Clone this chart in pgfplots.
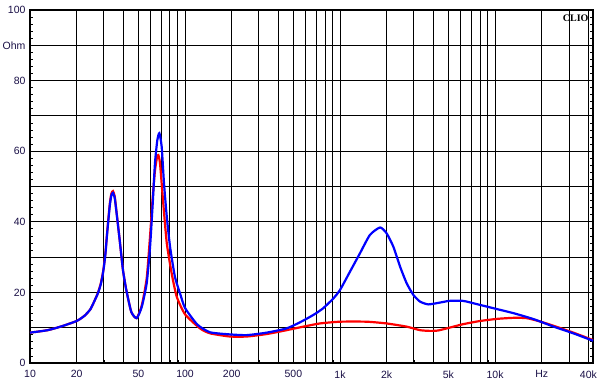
\documentclass[border=0pt]{standalone}
\usepackage{pgfplots}
\pgfplotsset{compat=1.18}
\usepackage{fontspec}
\setmainfont{Liberation Sans}
\newfontfamily\cliofont{Liberation Serif}
\definecolor{lab}{RGB}{25,15,70}
\begin{document}
\begin{tikzpicture}[x=1pt,y=1pt]
\useasboundingbox (-30,-25) rectangle (571,363);
\begin{axis}[
  at={(0,0)}, anchor=south west,
  scale only axis, width=563pt, height=353pt,
  xmode=log, xmin=10, xmax=42850, ymin=0, ymax=100,
  axis line style={line width=2pt},
  xtick={10,20,50,100,200,500,1000,2000,5000,10000,20000,40000},
  xticklabels={10,20,50,100,200,500,1k,2k,5k,10k,Hz,40k},
  minor xtick={30,40,60,70,80,90,300,400,600,700,800,900,3000,4000,6000,7000,8000,9000,30000},
  ytick={0,10,...,100},
  yticklabels={0,,20,,40,,60,,80,Ohm,100},
  minor ytick={2,4,...,98},
  grid=both,
  major grid style={black, line width=1pt},
  minor x grid style={black, line width=1pt},
  minor y grid style={draw=none},
  major tick length=0pt,
  minor tick length=3pt,
  minor tick style={black, line width=0.8pt},
  xtick pos=bottom,
  ytick align=inside,
  tick label style={font=\fontsize{10.5}{12}\selectfont, text=lab},
  xticklabel style={yshift=-4pt},
  yticklabel style={xshift=-1pt},
  clip=false,
]
\addplot[red, line width=2.2pt, smooth, tension=0.35] coordinates {
(10,8.6) (13,9.3) (16,10.4) (20,11.9) (22.5,13.4) (24.5,15.2) (26,17.5) (27.5,20) (28.7,22.8) (29.7,26.2) (30.6,30.8) (31.5,37.3) (32.7,45) (33.5,48) (34.3,48.7) (35.2,47.2) (36,43.5) (37.9,34.8) (39.8,26.3) (41.8,20.7) (45,14.5) (48.7,12.7) (52.6,16.3) (56.6,24) (59.5,36) (61.9,47) (64,54.5) (66,58.3) (67.3,58.9) (69,56.5) (72.4,45.2) (76.3,33.9) (82,25.4) (88.4,18.8) (100,13.8) (125,9.8) (145,8.4) (195,7.5) (250,7.5) (336,8.2) (452,9.3) (580,10.3) (741,11.2) (1000,11.7) (1487,11.7) (2000,11.2) (2690,10.3) (3280,9.3) (3800,9.1) (4280,9.2) (5080,10.0) (6220,11.0) (8000,11.9) (10300,12.5) (13200,12.8) (16000,12.7) (19400,11.8) (24000,10.5) (32000,8.6) (42850,6.5)
};
\addplot[blue, line width=2.2pt, smooth, tension=0.35] coordinates {
(10,8.6) (13,9.3) (16,10.4) (20,11.9) (22.5,13.4) (24.5,15.2) (26,17.5) (27.5,19.9) (28.7,22.5) (29.7,26) (30.6,30.5) (31.5,37) (32.7,44.5) (33.5,47.5) (34.3,48.2) (35.2,46.8) (36,43.3) (37.9,34.8) (39.8,26.3) (41.8,20.7) (45,14.5) (48.8,12.7) (52.6,15.9) (56.6,22.6) (59.5,32.9) (61.9,45.2) (64,56.6) (66.3,63.2) (68.3,65.1) (70.7,61.3) (73.2,50.9) (76.3,41.4) (80.1,32.9) (86.1,24.4) (92.9,19.7) (100,15.6) (120,10.9) (145,8.7) (195,8.1) (250,7.9) (336,8.6) (452,9.8) (550,11.5) (672,13.6) (778,15.5) (906,18.3) (1000,20.7) (1160,25.9) (1345,31.1) (1560,36.3) (1813,38.4) (2000,36.7) (2210,32.9) (2440,27.3) (2690,22.6) (2970,19.3) (3280,17.4) (3710,16.6) (4390,17.1) (5080,17.6) (6220,17.6) (7600,16.7) (9800,15.5) (13200,14.1) (17800,12.4) (23900,10.3) (32000,8.4) (42850,6.3)
};
\node[anchor=north east, font=\cliofont\bfseries\fontsize{10}{11}\selectfont, inner sep=1pt] at (rel axis cs:0.994,0.99) {CLIO};
\end{axis}
\end{tikzpicture}
\end{document}
